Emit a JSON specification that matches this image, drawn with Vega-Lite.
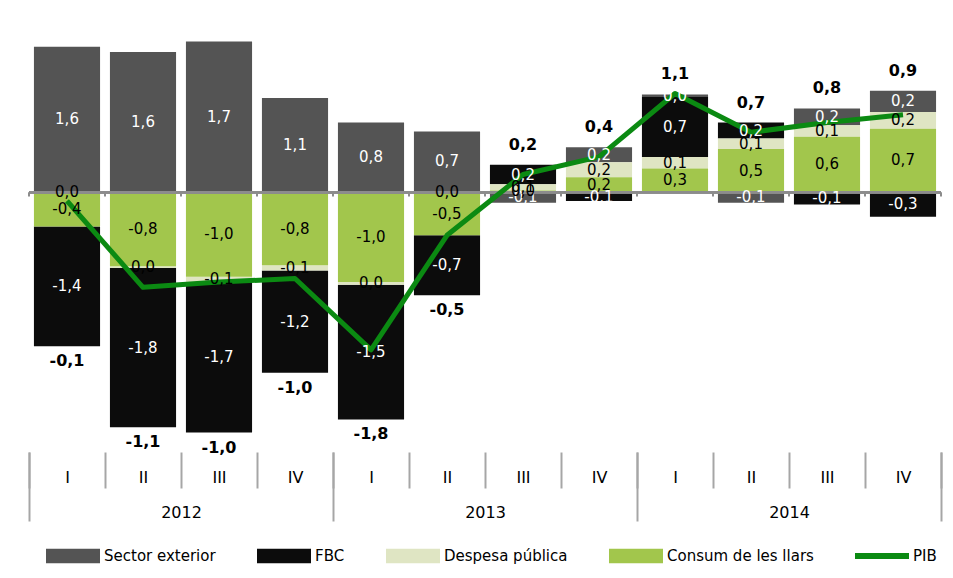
{
  "$schema": "https://vega.github.io/schema/vega-lite/v6.json",
  "width": 912,
  "height": 436,
  "padding": {"left": 28, "top": 16, "right": 5, "bottom": 0},
  "data": {
    "values": [
      {"q": "2012 I", "year": "2012", "Sector exterior": 1.64, "FBC": -1.36, "Despesa pública": 0.01, "Consum de les llars": -0.39, "pib": -0.1},
      {"q": "2012 II", "year": "2012", "Sector exterior": 1.59, "FBC": -1.81, "Despesa pública": -0.02, "Consum de les llars": -0.84, "pib": -1.08},
      {"q": "2012 III", "year": "2012", "Sector exterior": 1.71, "FBC": -1.71, "Despesa pública": -0.06, "Consum de les llars": -0.96, "pib": -1.02},
      {"q": "2012 IV", "year": "2012", "Sector exterior": 1.07, "FBC": -1.16, "Despesa pública": -0.06, "Consum de les llars": -0.83, "pib": -0.98},
      {"q": "2013 I", "year": "2013", "Sector exterior": 0.79, "FBC": -1.53, "Despesa pública": -0.03, "Consum de les llars": -1.02, "pib": -1.79},
      {"q": "2013 II", "year": "2013", "Sector exterior": 0.68, "FBC": -0.68, "Despesa pública": 0.01, "Consum de les llars": -0.49, "pib": -0.49},
      {"q": "2013 III", "year": "2013", "Sector exterior": -0.12, "FBC": 0.22, "Despesa pública": 0.07, "Consum de les llars": 0.02, "pib": 0.2},
      {"q": "2013 IV", "year": "2013", "Sector exterior": 0.17, "FBC": -0.1, "Despesa pública": 0.17, "Consum de les llars": 0.17, "pib": 0.4},
      {"q": "2014 I", "year": "2014", "Sector exterior": 0.03, "FBC": 0.68, "Despesa pública": 0.13, "Consum de les llars": 0.27, "pib": 1.12},
      {"q": "2014 II", "year": "2014", "Sector exterior": -0.12, "FBC": 0.18, "Despesa pública": 0.12, "Consum de les llars": 0.49, "pib": 0.68},
      {"q": "2014 III", "year": "2014", "Sector exterior": 0.19, "FBC": -0.14, "Despesa pública": 0.13, "Consum de les llars": 0.63, "pib": 0.79},
      {"q": "2014 IV", "year": "2014", "Sector exterior": 0.24, "FBC": -0.28, "Despesa pública": 0.19, "Consum de les llars": 0.72, "pib": 0.88}
    ]
  },
  "resolve": {"scale": {"x": "independent"}, "axis": {"x": "independent"}},
  "layer": [
    {
      "layer": [
        {
          "transform": [
            {"fold": ["Sector exterior", "FBC", "Despesa pública", "Consum de les llars"], "as": ["serie", "v"]},
            {"calculate": "indexof(['Consum de les llars','Despesa pública','FBC','Sector exterior'], datum.serie)", "as": "ord"},
            {"stack": "v", "groupby": ["q"], "sort": [{"field": "ord", "order": "ascending"}], "as": ["v0", "v1"], "offset": "zero"}
          ],
          "mark": {"type": "bar", "width": {"band": 0.87}},
          "encoding": {
            "x": {
              "field": "q", "type": "ordinal",
              "scale": {"paddingInner": 0, "paddingOuter": 0},
              "axis": {
                "title": null, "orient": "bottom", "domain": false, "grid": false,
                "tickBand": "extent", "tickSize": 36, "tickWidth": 2, "tickColor": "#a6a6a6",
                "labelExpr": "split(datum.label, ' ')[1]", "labelFontSize": 16, "labelColor": "#000000",
                "labelBaseline": "middle", "labelPadding": -11, "labelAngle": 0
              }
            },
            "y": {"field": "v0", "type": "quantitative", "scale": {"domain": [-2.95, 2], "nice": false, "zero": false}, "axis": null},
            "y2": {"field": "v1"},
            "color": {
              "field": "serie", "type": "nominal",
              "scale": {
                "domain": ["Sector exterior", "FBC", "Despesa pública", "Consum de les llars", "PIB"],
                "range": ["#545454", "#0c0c0c", "#dfe5c3", "#a2c64c", "#0b8a12"]
              },
              "legend": {
                "title": null, "orient": "bottom", "direction": "horizontal", "offset": -10, "padding": 17,
                "labelFontSize": 15, "labelColor": "#000000", "labelOffset": 4, "columnPadding": 41,
                "symbolSize": 2916, "symbolStrokeWidth": 0,
                "symbolType": "M-1,-0.27H1V0.27H-1Z",
                "encode": {
                  "symbols": {
                    "update": {
                      "shape": {"signal": "datum.value === 'PIB' ? 'M-1,-0.11H1V0.11H-1Z' : 'M-1,-0.27H1V0.27H-1Z'"},
                      "fill": {"scale": "color", "field": "value"},
                      "stroke": {"value": "transparent"},
                      "opacity": {"value": 1}
                    }
                  }
                }
              }
            }
          }
        },
        {
          "mark": {"type": "rule", "color": "#8c8c8c", "strokeWidth": 2},
          "encoding": {"y": {"datum": 0}}
        },
        {
          "mark": {"type": "rule", "color": "#8c8c8c", "strokeWidth": 2},
          "encoding": {
            "x": {"field": "q", "type": "ordinal", "bandPosition": 0},
            "y": {"datum": 0},
            "y2": {"datum": -0.05}
          }
        },
        {
          "transform": [{"filter": "datum.q == '2014 IV'"}],
          "mark": {"type": "rule", "color": "#8c8c8c", "strokeWidth": 2},
          "encoding": {
            "x": {"field": "q", "type": "ordinal", "bandPosition": 1},
            "y": {"datum": 0},
            "y2": {"datum": -0.05}
          }
        },
        {
          "mark": {"type": "line", "strokeWidth": 5, "strokeJoin": "round"},
          "encoding": {
            "x": {"field": "q", "type": "ordinal"},
            "y": {"field": "pib", "type": "quantitative"},
            "color": {"datum": "PIB"}
          }
        },
        {
          "transform": [
            {"fold": ["Sector exterior", "FBC", "Despesa pública", "Consum de les llars"], "as": ["serie", "v"]},
            {"calculate": "indexof(['Consum de les llars','Despesa pública','FBC','Sector exterior'], datum.serie)", "as": "ord"},
            {"stack": "v", "groupby": ["q"], "sort": [{"field": "ord", "order": "ascending"}], "as": ["v0", "v1"], "offset": "zero"},
            {"calculate": "(datum.v0 + datum.v1) / 2", "as": "mid"}
          ],
          "mark": {"type": "text", "fontSize": 15, "baseline": "middle"},
          "encoding": {
            "x": {"field": "q", "type": "ordinal"},
            "y": {"field": "mid", "type": "quantitative"},
            "text": {"field": "v", "type": "quantitative", "format": ".1f"},
            "color": {"condition": {"test": "datum.serie == 'Sector exterior' || datum.serie == 'FBC'", "value": "#ffffff"}, "value": "#000000"}
          }
        },
        {
          "transform": [
            {"filter": "datum.pib >= 0"},
            {"calculate": "max(datum['Sector exterior'],0)+max(datum['FBC'],0)+max(datum['Despesa pública'],0)+max(datum['Consum de les llars'],0)", "as": "top"}
          ],
          "mark": {"type": "text", "fontSize": 16, "fontWeight": "bold", "baseline": "middle", "dy": -20, "color": "#000000"},
          "encoding": {
            "x": {"field": "q", "type": "ordinal"},
            "y": {"field": "top", "type": "quantitative"},
            "text": {"field": "pib", "type": "quantitative", "format": ".1f"}
          }
        },
        {
          "transform": [
            {"filter": "datum.pib < 0"},
            {"calculate": "min(datum['Sector exterior'],0)+min(datum['FBC'],0)+min(datum['Despesa pública'],0)+min(datum['Consum de les llars'],0)", "as": "bot"}
          ],
          "mark": {"type": "text", "fontSize": 16, "fontWeight": "bold", "baseline": "middle", "dy": 15, "color": "#000000"},
          "encoding": {
            "x": {"field": "q", "type": "ordinal"},
            "y": {"field": "bot", "type": "quantitative"},
            "text": {"field": "pib", "type": "quantitative", "format": ".1f"}
          }
        }
      ]
    },
    {
      "mark": {"type": "rule", "strokeOpacity": 0},
      "encoding": {
        "x": {
          "field": "year", "type": "ordinal",
          "scale": {"paddingInner": 0, "paddingOuter": 0},
          "axis": {
            "title": null, "orient": "bottom", "domain": false, "grid": false,
            "tickBand": "extent", "tickSize": 69, "tickWidth": 2, "tickColor": "#a6a6a6",
            "labelFontSize": 16, "labelColor": "#000000",
            "labelBaseline": "middle", "labelPadding": -9, "labelAngle": 0
          }
        }
      }
    }
  ],
  "config": {
    "font": "DejaVu Sans",
    "view": {"stroke": null},
    "locale": {"number": {"decimal": ",", "thousands": ".", "grouping": [3], "currency": ["", " €"], "minus": "-"}}
  }
}
